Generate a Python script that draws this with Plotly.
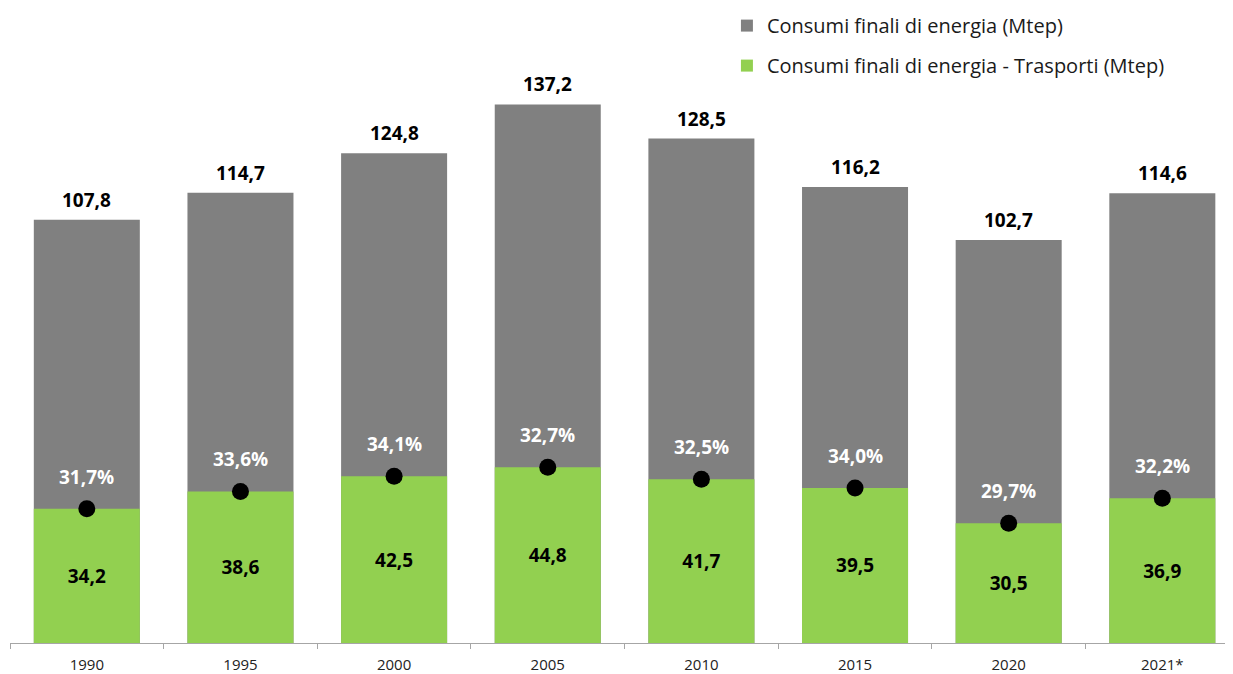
import plotly.graph_objects as go

years = ["1990", "1995", "2000", "2005", "2010", "2015", "2020", "2021*"]
totale = [107.8, 114.7, 124.8, 137.2, 128.5, 116.2, 102.7, 114.6]
trasporti = [34.2, 38.6, 42.5, 44.8, 41.7, 39.5, 30.5, 36.9]
quota = [31.7, 33.6, 34.1, 32.7, 32.5, 34.0, 29.7, 32.2]

GREY = "#808080"
GREEN = "#92D050"
FONT = "Open Sans"


def it(v, suffix=""):
    return f"{v:.1f}".replace(".", ",") + suffix


fig = go.Figure()
fig.add_trace(go.Bar(
    x=years, y=totale, name="Consumi finali di energia (Mtep)",
    marker=dict(color=GREY, line=dict(width=0)), width=0.69,
    legendgroup="a", hoverinfo="skip",
))
fig.add_trace(go.Bar(
    x=years, y=trasporti, name="Consumi finali di energia - Trasporti (Mtep)",
    marker=dict(color=GREEN, line=dict(width=0)), width=0.69,
    text=[it(v) for v in trasporti], textposition="inside",
    insidetextanchor="middle", textangle=0,
    textfont=dict(family=FONT, size=19, color="black", weight="bold"),
    legendgroup="b", hoverinfo="skip",
))
fig.add_trace(go.Scatter(
    x=years, y=trasporti, mode="markers",
    marker=dict(color="black", size=17),
    showlegend=False, hoverinfo="skip",
))

annotations = []
for i, t in enumerate(totale):
    annotations.append(dict(
        x=i, y=t, xref="x", yref="y", text=it(t), showarrow=False,
        yanchor="bottom", yshift=5,
        font=dict(family=FONT, size=19, color="black", weight="bold"),
    ))
for i, (t, q) in enumerate(zip(trasporti, quota)):
    annotations.append(dict(
        x=i, y=t, xref="x", yref="y", text=it(q, "%"), showarrow=False,
        yanchor="middle", yshift=32,
        font=dict(family=FONT, size=19, color="white", weight="bold"),
    ))

fig.update_layout(
    width=1233, height=674,
    margin=dict(l=2, r=8, t=0, b=39, autoexpand=False),
    barmode="overlay",
    plot_bgcolor="white", paper_bgcolor="white",
    font=dict(family=FONT, color="black"),
    showlegend=True,
    legend=dict(
        x=0.5862, xanchor="left", y=1.003, yanchor="top",
        font=dict(family=FONT, size=20, color="#1a1a1a"),
        traceorder="grouped", tracegroupgap=11,
        bgcolor="rgba(0,0,0,0)",
    ),
    xaxis=dict(
        type="category", range=[-0.5, 7.46],
        showline=True, linecolor="#A6A6A6", linewidth=1,
        ticks="outside", tickson="boundaries", ticklen=5, tickcolor="#A6A6A6",
        tickfont=dict(family=FONT, size=15, color="#222222"),
        ticklabelstandoff=8,
        showgrid=False, zeroline=False, automargin=False,
    ),
    yaxis=dict(range=[0, 149.8], domain=[0, 588 / 635], visible=False,
               showgrid=False, zeroline=False),
    annotations=annotations,
)

fig.write_html("out.html")
